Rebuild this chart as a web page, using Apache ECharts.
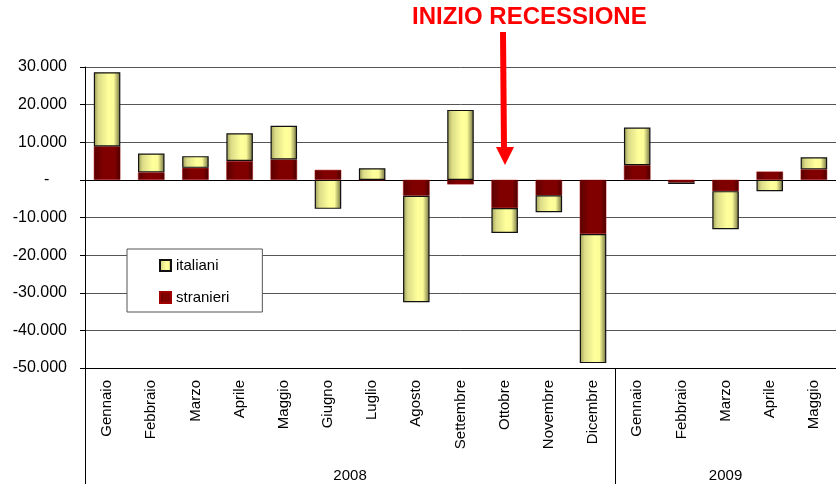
<!DOCTYPE html>
<html>
<head>
<meta charset="utf-8">
<title>Occupati italiani e stranieri</title>
<script src="https://cdn.jsdelivr.net/npm/echarts@6/dist/echarts.min.js"></script>
<style>
	html, body { margin: 0; padding: 0; background: #fff; }
	#chart { width: 836px; height: 484px; }
</style>
</head>
<body>
<div id="chart"></div>
<script>
// mesi (asse categorie)
var months = ['Gennaio', 'Febbraio', 'Marzo', 'Aprile', 'Maggio', 'Giugno', 'Luglio',
		'Agosto', 'Settembre', 'Ottobre', 'Novembre', 'Dicembre',
		'Gennaio', 'Febbraio', 'Marzo', 'Aprile', 'Maggio'];
// anni e numero di mesi per anno
var years = ['2008', '2009'];
var monthsPerYear = [12, 5];
// valori
var stranieri = [8900, 2000, 3200, 5000, 5400, 2650, 0, -4200, -1200, -7500, -4100, -14400,
		3900, -700, -3000, 2200, 2800];
var italiani = [19700, 5000, 3100, 7400, 9000, -7700, 3100, -28300, 18600, -6600, -4500, -34300,
		10000, -400, -10100, -3000, 3200];
// asse y
var yMin = -50000, yMax = 30000, yStep = 10000;

var FONT = 'Liberation Sans, Arial, sans-serif';

function formatNum(v) {
	if (v === 0) {
		return '-    ';
	}
	var s = String(Math.abs(v)).replace(/\B(?=(\d{3})+(?!\d))/g, '.');
	return (v < 0 ? '-' : '') + s;
}

// posizioni dei separatori e delle etichette degli anni
var yearTicks = [0], yearLabels = [], acc = 0;
monthsPerYear.forEach(function(n) {
	yearLabels.push(acc + n / 2);
	acc += n;
	yearTicks.push(acc);
});

var myChart = echarts.init(document.getElementById('chart'));
var option = {
	animation : false,
	title : {
		text : 'INIZIO RECESSIONE',
		left : 412,
		top : 5,
		padding : 0,
		textStyle : {
			fontFamily : FONT,
			fontSize : 24,
			fontWeight : 'bold',
			color : '#ff0000'
		}
	},
	legend : {
		data : [ 'italiani', 'stranieri' ],
		orient : 'vertical',
		left : 127,
		top : 249,
		padding : [ 9, 33, 7, 32 ],
		itemGap : 17,
		itemWidth : 11,
		itemHeight : 11,
		icon : 'rect',
		backgroundColor : '#fff',
		borderColor : '#555',
		borderWidth : 1,
		textStyle : {
			fontFamily : FONT,
			fontSize : 15,
			color : '#000'
		}
	},
	grid : {
		left : 85,
		top : 67,
		width : 757,
		height : 301
	},
	yAxis : {
		type : 'value',
		min : yMin,
		max : yMax,
		interval : yStep,
		axisLine : { show : true, lineStyle : { color : '#000' } },
		axisTick : { show : true, length : 5, lineStyle : { color : '#000' } },
		splitLine : { lineStyle : { color : '#555', width : 1 } },
		axisLabel : {
			margin : 18,
			color : '#000',
			fontFamily : FONT,
			fontSize : 16,
			formatter : formatNum
		}
	},
	xAxis : [ {
		// asse sullo zero
		type : 'category',
		data : months,
		axisLine : { onZero : true, lineStyle : { color : '#000' } },
		axisTick : { length : 5, lineStyle : { color : '#000' } },
		axisLabel : { show : false }
	}, {
		// mesi in basso
		type : 'category',
		data : months,
		position : 'bottom',
		axisLine : { onZero : false, lineStyle : { color : '#000' } },
		axisTick : { length : 84, lineStyle : { color : '#000' } },
		axisLabel : {
			interval : 0,
			rotate : 90,
			margin : 12,
			color : '#000',
			fontFamily : FONT,
			fontSize : 15
		}
	}, {
		// anni
		type : 'value',
		min : 0,
		max : months.length,
		position : 'bottom',
		splitLine : { show : false },
		axisLine : { show : false, onZero : false },
		axisTick : {
			show : true,
			customValues : yearTicks,
			length : 116,
			lineStyle : { color : '#000' }
		},
		axisLabel : {
			customValues : yearLabels,
			margin : 100,
			color : '#000',
			fontFamily : FONT,
			fontSize : 15,
			formatter : function(v) {
				return years[yearLabels.indexOf(v)] || '';
			}
		}
	} ],
	series : [ {
		name : 'stranieri',
		type : 'bar',
		stack : 'tot',
		barWidth : '60%',
		data : stranieri,
		itemStyle : {
			color : new echarts.graphic.LinearGradient(0, 0, 1, 0, [
				{ offset : 0, color : '#5a0000' },
				{ offset : 0.35, color : '#800000' },
				{ offset : 0.8, color : '#800000' },
				{ offset : 1, color : '#450000' } ]),
			borderColor : '#a00000',
			borderWidth : 0.5
		}
	}, {
		name : 'italiani',
		type : 'bar',
		stack : 'tot',
		barWidth : '60%',
		data : italiani,
		itemStyle : {
			color : new echarts.graphic.LinearGradient(0, 0, 1, 0, [
				{ offset : 0, color : '#9a9a58' },
				{ offset : 0.18, color : '#dcdc88' },
				{ offset : 0.55, color : '#ffff9c' },
				{ offset : 0.75, color : '#fbfb98' },
				{ offset : 1, color : '#6e6e40' } ]),
			borderColor : '#111',
			borderWidth : 1.2
		}
	} ],
	graphic : [ {
		// freccia
		type : 'line',
		shape : { x1 : 503, y1 : 32, x2 : 504, y2 : 149 },
		style : { stroke : '#ff0000', lineWidth : 6 },
		z : 100
	}, {
		type : 'polygon',
		shape : { points : [ [ 496, 147 ], [ 514, 147 ], [ 505, 165 ] ] },
		style : { fill : '#ff0000' },
		z : 100
	} ]
};
myChart.setOption(option);
</script>
</body>
</html>
